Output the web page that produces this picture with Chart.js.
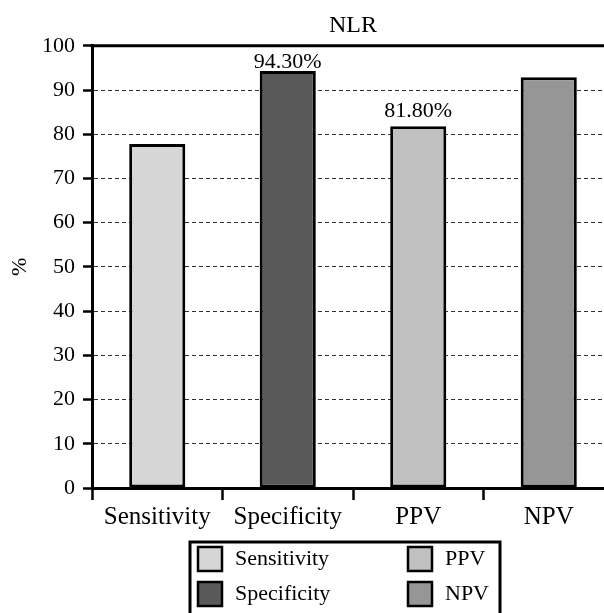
<!DOCTYPE html>
<html>
<head>
<meta charset="utf-8">
<script src="https://cdn.jsdelivr.net/npm/chart.js@4.4.1/dist/chart.umd.min.js"></script>
<style>
html,body{margin:0;padding:0;background:#fff;overflow:hidden;}
#wrap{position:absolute;left:0;top:0;width:640px;height:613px;}
</style>
</head>
<body>
<div id="wrap"><canvas id="c" width="640" height="613"></canvas></div>
<script>
const categories = ["Sensitivity", "Specificity", "PPV", "NPV"];
const values = [77.8, 94.3, 81.8, 92.9];
const valueLabels = ["", "94.30%", "81.80%", ""];
const labelGaps = [0, 0, 6, 0];
const barColors = ["#d6d6d6", "#595959", "#c0c0c0", "#969696"];
const yTicks = [0, 10, 20, 30, 40, 50, 60, 70, 80, 90, 100];
const chartTitle = "NLR";
const yTitle = "%";

const SERIF = "'Liberation Serif', 'Times New Roman', serif";

const decorPlugin = {
  id: 'decor',
  afterDatasetsDraw(chart) {
    const ctx = chart.ctx;
    const meta = chart.getDatasetMeta(0);
    ctx.save();
    ctx.font = "22px " + SERIF;
    ctx.fillStyle = "#000";
    ctx.textAlign = "center";
    ctx.textBaseline = "alphabetic";
    meta.data.forEach((bar, i) => {
      if (!valueLabels[i]) return;
      ctx.fillText(valueLabels[i], bar.x, bar.y - labelGaps[i] - 3);
    });
    ctx.restore();
  },
  afterDraw(chart) {
    const ctx = chart.ctx;
    const a = chart.chartArea;
    ctx.save();
    // top frame line
    ctx.strokeStyle = "#000";
    ctx.lineWidth = 3;
    ctx.beginPath();
    ctx.moveTo(a.left - 1.5, a.top);
    ctx.lineTo(a.right, a.top);
    ctx.stroke();
    // legend box
    const bx = 190, by = 542, bw = 310, bh = 90;
    ctx.lineWidth = 3;
    ctx.strokeRect(bx, by, bw, bh);
    ctx.font = "22px " + SERIF;
    ctx.textAlign = "left";
    ctx.textBaseline = "middle";
    const cols = [198, 408];
    const rows = [559, 594];
    categories.forEach((name, i) => {
      const col = Math.floor(i / 2), row = i % 2;
      const x = cols[col], y = rows[row];
      ctx.fillStyle = barColors[i];
      ctx.fillRect(x, y - 12, 24, 24);
      ctx.lineWidth = 2.5;
      ctx.strokeStyle = "#000";
      ctx.strokeRect(x, y - 12, 24, 24);
      ctx.fillStyle = "#000";
      ctx.fillText(name, x + 37, y);
    });
    ctx.restore();
  }
};

new Chart(document.getElementById('c'), {
  type: 'bar',
  data: {
    labels: categories,
    datasets: [{
      data: values,
      backgroundColor: barColors,
      borderColor: "#000",
      borderWidth: 3,
      borderSkipped: false,
      categoryPercentage: 1.0,
      barPercentage: 0.43
    }]
  },
  options: {
    responsive: false,
    animation: false,
    devicePixelRatio: 1,
    layout: { padding: { left: 0, right: 26, top: 0, bottom: 0 } },
    plugins: {
      legend: { display: false },
      tooltip: { enabled: false },
      title: {
        display: true,
        text: chartTitle,
        fullSize: false,
        color: "#000",
        font: { family: SERIF, size: 24, weight: 'normal' },
        padding: { top: 11, bottom: 6 }
      }
    },
    scales: {
      x: {
        afterFit(scale) { scale.height = 125; },
        grid: {
          display: true,
          offset: true,
          drawOnChartArea: false,
          drawTicks: true,
          tickLength: 12,
          tickColor: "#000",
          tickWidth: 2.5,
          color: "#000"
        },
        border: { display: true, color: "#000", width: 3 },
        ticks: {
          color: "#000",
          font: { family: SERIF, size: 25 },
          padding: 2,
          maxRotation: 0,
          autoSkip: false
        }
      },
      y: {
        min: 0,
        max: 100,
        afterFit(scale) { scale.width = 92; },
        afterBuildTicks(scale) { scale.ticks = yTicks.map(v => ({ value: v })); },
        grid: {
          color: (c) => (c.tick && (c.tick.value === 0 || c.tick.value === 100)) ? 'rgba(0,0,0,0)' : '#333',
          lineWidth: 1,
          drawTicks: true,
          tickLength: 9,
          tickColor: "#000",
          tickWidth: 2.5
        },
        border: { display: true, color: "#000", width: 3, dash: [4, 3] },
        title: {
          display: true,
          text: yTitle,
          color: "#000",
          font: { family: SERIF, size: 22 },
          padding: { top: 7, bottom: 0 }
        },
        ticks: {
          color: "#000",
          font: { family: SERIF, size: 22 },
          padding: 8
        }
      }
    }
  },
  plugins: [decorPlugin]
});
</script>
</body>
</html>
